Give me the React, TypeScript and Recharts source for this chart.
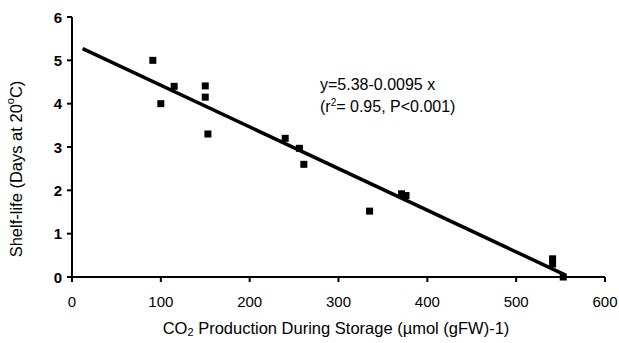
import { ReferenceLine, Scatter, ScatterChart, XAxis, YAxis } from "recharts";

// CO2 production (µmol gFW-1) vs shelf-life (days at 20 C)
const co2 = [91, 100, 115, 150, 150, 153, 240, 256, 261, 335, 371, 376, 541, 541, 553];
const shelfLife = [5.0, 4.0, 4.4, 4.41, 4.15, 3.3, 3.2, 2.97, 2.6, 1.52, 1.92, 1.88, 0.42, 0.3, 0.0];
const xTicks = [0, 100, 200, 300, 400, 500, 600];
const yTicks = [0, 1, 2, 3, 4, 5, 6];
const fitLine = [
  { x: 12, y: 5.27 },
  { x: 555, y: 0.05 },
];
const equation = "y=5.38-0.0095 x";
const stats = ["(r", "2", "= 0.95, P<0.001)"];

const points = co2.map((x, i) => ({ x, y: shelfLife[i] }));

const FONT = "'Liberation Sans', Arial, sans-serif";

const Square = (props: any) => {
  const { cx, cy } = props;
  return <rect x={cx - 3.5} y={cy - 3.5} width={7} height={7} fill="#000" />;
};

const XTick = (props: any) => {
  const { x, y, payload } = props;
  return (
    <text x={x} y={y + 17} textAnchor="middle" dominantBaseline="central" fontSize={15} fontFamily={FONT} fill="#000">
      {payload.value}
    </text>
  );
};

const YTick = (props: any) => {
  const { x, y, payload } = props;
  return (
    <text x={x - 3} y={y} textAnchor="end" dominantBaseline="central" fontSize={15} fontWeight="bold" fontFamily={FONT} fill="#000">
      {payload.value}
    </text>
  );
};

const xLabel = () => (
  <text x={336} y={328} textAnchor="middle" dominantBaseline="central" fontSize={16.5} fontFamily={FONT} fill="#000">
    CO<tspan fontSize={11} dy={4}>2</tspan>
    <tspan dy={-4}> Production During Storage (µmol (gFW)-1)</tspan>
  </text>
);

const yLabel = () => (
  <text
    x={16}
    y={169}
    transform="rotate(-90 16 169)"
    textAnchor="middle"
    dominantBaseline="central"
    fontSize={16.5}
    fontFamily={FONT}
    fill="#000"
  >
    Shelf-life (Days at 20<tspan fontSize={11} dy={-6}>o</tspan>
    <tspan dy={6}>C)</tspan>
  </text>
);

export default function App() {
  return (
    <div style={{ position: "fixed", left: 0, top: 0, width: 619, height: 343, background: "#fff" }}>
      <ScatterChart width={619} height={343} margin={{ top: 17, right: 14, left: 0, bottom: 0 }}>
        <XAxis
          type="number"
          dataKey="x"
          domain={[0, 600]}
          ticks={xTicks}
          height={66}
          axisLine={{ stroke: "#000", strokeWidth: 2 }}
          tickLine={{ stroke: "#000", strokeWidth: 2 }}
          tickSize={5}
          tick={<XTick />}
          label={xLabel}
        />
        <YAxis
          type="number"
          dataKey="y"
          domain={[0, 6]}
          ticks={yTicks}
          width={72}
          axisLine={{ stroke: "#000", strokeWidth: 2 }}
          tickLine={{ stroke: "#000", strokeWidth: 2 }}
          tickSize={5}
          tick={<YTick />}
          label={yLabel}
        />
        <ReferenceLine segment={fitLine} stroke="#000" strokeWidth={3.5} />
        <Scatter data={points} fill="#000" shape={<Square />} isAnimationActive={false} />
      </ScatterChart>
      <div
        style={{
          position: "absolute",
          left: 320,
          top: 74,
          fontFamily: FONT,
          fontSize: 16,
          lineHeight: "22px",
          color: "#000",
          whiteSpace: "nowrap",
        }}
      >
        <div>{equation}</div>
        <div>
          {stats[0]}
          <sup style={{ fontSize: 10, verticalAlign: "6px", lineHeight: 0 }}>{stats[1]}</sup>
          {stats[2]}
        </div>
      </div>
    </div>
  );
}
